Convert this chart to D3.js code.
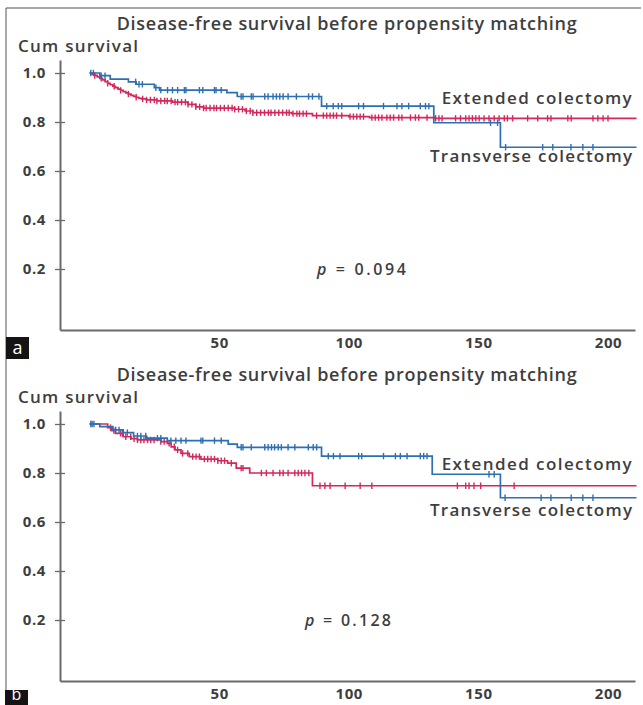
<!DOCTYPE html>
<html>
<head>
<meta charset="utf-8">
<script src="https://cdn.jsdelivr.net/npm/d3@7"></script>
<style>
  body { margin: 0; background: #fff; }
  svg { display: block; }
  text { font-family: "Open Sans", "Noto Sans", sans-serif; }
</style>
</head>
<body>
<svg id="chart" width="643" height="705"></svg>
<script>
// ---- data ----
const xTicks = [50, 100, 150, 200];
const yTicks = [0.2, 0.4, 0.6, 0.8, 1.0];
const chartTitle = "Disease-free survival before propensity matching";
const yTitle = "Cum survival";
const seriesNames = ["Extended colectomy", "Transverse colectomy"];
const pValues = ["0.094", "0.128"];
const panelLetters = ["a", "b"];

// panel a : step points [time, survival] and censor times
const blueStepsA = [[0, 1], [4, 0.989], [8, 0.975], [15, 0.964], [18, 0.954], [25, 0.94], [27, 0.93],
  [53, 0.92], [57, 0.904], [89.5, 0.865], [132.8, 0.797], [158.5, 0.697], [211, 0.697]];
const blueCensorA = [0.5, 1.5, 4.5, 6, 17.8, 19.1, 20.4, 25.6, 27.5, 30.1, 32, 34, 36.6, 37.2, 42.4, 43.7,
  48.2, 48.8, 50.8, 58.5, 59.2, 62.4, 63.1, 67.6, 68.9, 70.8, 72.1, 73.4, 74.7, 76.6, 79.8, 84.5, 86, 88.5,
  91.5, 94, 96, 97.3, 103.8, 105.7, 113.4, 118.6, 120.5, 123.1, 127.6, 129.6, 130.9, 154.7, 157.4,
  160.5, 174.8, 178.7, 185.7, 190.3, 194.2];
const redStepsA = [[0, 1], [1, 0.995], [2, 0.99], [3, 0.984], [4, 0.978], [5, 0.972], [6, 0.965], [7, 0.958],
  [8, 0.952], [9, 0.946], [10, 0.94], [11, 0.934], [12, 0.929], [13, 0.924], [14, 0.919], [15, 0.914],
  [16, 0.909], [17, 0.905], [18, 0.901], [19, 0.897], [20, 0.894], [22, 0.89], [26, 0.886], [32, 0.881],
  [38, 0.872], [41, 0.862], [44, 0.857], [56, 0.852], [60, 0.845], [63, 0.838], [78, 0.834], [86, 0.826],
  [100, 0.822], [108, 0.818], [133, 0.815], [211, 0.815]];
const redCensorA = [2, 4.5, 7, 9.5, 12, 15, 18, 20.5, 22, 23.5, 25, 26, 27.5, 29, 30, 31.5, 33, 34, 35.5,
  37, 38, 39.5, 41, 42.5, 44, 45, 46.5, 48, 49, 50.5, 52, 53.5, 55, 56, 57.5, 59, 60.5, 62, 63, 64.5, 66,
  67.5, 69, 70, 71.5, 73, 74.5, 76, 77, 78.5, 80, 81, 82.4, 83.7, 87.6, 90.2, 91.5, 92.8, 94.1, 95.3, 97.3,
  100.5, 101.8, 103.1, 104.4, 105.7, 108.9, 110.2, 111.5, 112.8, 114.7, 116, 117.3, 119.3, 120.5, 123.8,
  125.7, 127, 130.2, 133.5, 134.8, 136, 141.2, 143.1, 145.1, 146.4, 147.7, 149, 150.3, 152.2, 154.1,
  156.1, 158, 160, 161.2, 163.2, 169, 172.9, 176.7, 178, 184.5, 185.8, 194.2, 196.1, 198.1, 200];

// panel b
const blueStepsB = [[0, 1], [4, 0.989], [9, 0.976], [13, 0.965], [17, 0.951], [22, 0.942], [30, 0.932],
  [53.5, 0.918], [57, 0.905], [89.5, 0.869], [132.2, 0.795], [158.5, 0.699], [211, 0.699]];
const blueCensorB = [0.5, 1, 1.7, 10.1, 11.4, 14.6, 18.5, 19.8, 21.7, 26.2, 27.5, 31.4, 33.3, 35.3, 37.2,
  43, 43.7, 48.2, 50.8, 58.5, 59.2, 62.4, 67.6, 68.9, 70.2, 71.4, 72.8, 74, 76.6, 79.2, 84.4, 86.3, 87.6,
  92.1, 94.1, 96.6, 103.8, 105, 113.4, 118, 119.9, 122.5, 127.6, 128.9, 130.2, 154.1, 156.1, 160.3,
  174.2, 178, 185.8, 190.3, 194.2];
const redStepsB = [[0, 1], [7, 0.985], [8.5, 0.973], [10, 0.962], [13, 0.948], [16, 0.94], [18.5, 0.935],
  [27.5, 0.928], [30, 0.921], [31.5, 0.907], [33, 0.894], [35.3, 0.88], [38.5, 0.867], [43, 0.857],
  [49.5, 0.85], [53.3, 0.84], [56.6, 0.82], [61.8, 0.8], [86, 0.748], [211, 0.748]];
const redCensorB = [8.1, 9.4, 12, 12.7, 14, 15.9, 17.2, 18.5, 19.8, 21, 22.4, 23.6, 24.9, 27.5, 28.8, 30.7,
  32.7, 34, 35.9, 37.9, 39.8, 41.1, 42.4, 44.3, 45.6, 46.9, 48.2, 49.5, 50.8, 52.1, 54.7, 58.5, 59.2, 66.3,
  68.2, 70.8, 73.4, 74.7, 76.6, 79.2, 80.5, 81.8, 83.1, 84.6, 88.9, 90.8, 92.8, 98.6, 104.4, 108.9, 141.9,
  145.1, 146.4, 148.3, 150.9, 163.8];

// ---- styles ----
const blueColor = "#2c6fb2";
const redColor = "#d4285a";
const axisColor = "#6a6a6a";
const textColor = "#3e3e3e";

const svg = d3.select("#chart");

// outer frame (top and left rule)
svg.append("line").attr("x1", 6).attr("x2", 641).attr("y1", 8).attr("y2", 8)
  .attr("stroke", "#8a8a8a").attr("stroke-width", 1.4);
svg.append("line").attr("x1", 6).attr("x2", 6).attr("y1", 8).attr("y2", 705)
  .attr("stroke", "#555").attr("stroke-width", 1);

const panels = [
  {
    offset: 0, blue: blueStepsA, blueCensor: blueCensorA, red: redStepsA, redCensor: redCensorA,
    p: pValues[0], letter: panelLetters[0],
    extY: 103.5, transY: 162, pX: 317, pY: 275, pLen: 89, letterBox: [6, 337, 23, 22], letterY: 354, letterSize: 18
  },
  {
    offset: 351, blue: blueStepsB, blueCensor: blueCensorB, red: redStepsB, redCensor: redCensorB,
    p: pValues[1], letter: panelLetters[1],
    extY: 119, transY: 164.5, pX: 305, pY: 274.5, pLen: 86, letterBox: [5, 339, 23, 16], letterY: 349, letterSize: 16
  }
];

function survivalAt(steps, t) {
  let s = steps[0][1];
  for (const d of steps) { if (d[0] <= t) s = d[1]; else break; }
  return s;
}

panels.forEach(cfg => {
  const g = svg.append("g").attr("transform", `translate(0,${cfg.offset})`);

  const x = d3.scaleLinear().domain([0, 200]).range([89.5, 608]);
  const y = d3.scaleLinear().domain([0, 1]).range([318, 73]);

  // axes span past the data, like the original
  const xAxisScale = x.copy().domain([x.invert(60), x.invert(635)]).range([60, 635]);
  const yAxisScale = y.copy().domain([y.invert(330), y.invert(60)]).range([330, 60]);

  const xAxis = g.append("g").attr("transform", "translate(0,330)")
    .call(d3.axisBottom(xAxisScale).tickValues(xTicks).tickSize(0).tickSizeOuter(0).tickPadding(7)
      .tickFormat(d3.format("d")));
  xAxis.select(".domain").attr("stroke", axisColor).attr("stroke-width", 2);
  xAxis.selectAll("text").attr("fill", textColor).attr("font-size", 15).attr("font-weight", 700)
    .attr("letter-spacing", 0.6);

  const yAxis = g.append("g").attr("transform", "translate(60,0)")
    .call(d3.axisLeft(yAxisScale).tickValues(yTicks).tickSize(5).tickSizeOuter(0).tickPadding(9)
      .tickFormat(d3.format(".1f")));
  yAxis.select(".domain").attr("stroke", axisColor).attr("stroke-width", 2);
  yAxis.selectAll(".tick line").attr("x1", 5).attr("stroke", axisColor).attr("stroke-width", 1.3);
  yAxis.selectAll("text").attr("fill", textColor).attr("font-size", 15).attr("font-weight", 700)
    .attr("letter-spacing", 0.6);

  const line = d3.line().x(d => x(d[0])).y(d => y(d[1])).curve(d3.curveStepAfter);

  function drawSeries(steps, censor, color) {
    g.append("path").datum(steps).attr("d", line)
      .attr("fill", "none").attr("stroke", color).attr("stroke-width", 1.7);
    g.append("g").selectAll("line").data(censor).join("line")
      .attr("x1", d => x(d)).attr("x2", d => x(d))
      .attr("y1", d => y(survivalAt(steps, d)) - 3.2)
      .attr("y2", d => y(survivalAt(steps, d)) + 3.2)
      .attr("stroke", color).attr("stroke-width", 1.4);
  }
  drawSeries(cfg.red, cfg.redCensor, redColor);
  drawSeries(cfg.blue, cfg.blueCensor, blueColor);

  // texts
  g.append("text").attr("x", 116.7).attr("y", 30).attr("textLength", 460)
    .attr("font-size", 18).attr("font-weight", 600).attr("fill", textColor).text(chartTitle);
  g.append("text").attr("x", 18).attr("y", 51.5).attr("textLength", 120)
    .attr("font-size", 17).attr("font-weight", 600).attr("fill", textColor).text(yTitle);
  g.append("text").attr("x", 441.7).attr("y", cfg.extY).attr("textLength", 190)
    .attr("font-size", 17).attr("font-weight", 600).attr("fill", textColor).text(seriesNames[0]);
  g.append("text").attr("x", 430).attr("y", cfg.transY).attr("textLength", 202)
    .attr("font-size", 17).attr("font-weight", 600).attr("fill", textColor).text(seriesNames[1]);

  const pText = g.append("text").attr("x", cfg.pX).attr("y", cfg.pY).attr("textLength", cfg.pLen)
    .attr("font-size", 16).attr("font-weight", 600).attr("fill", textColor);
  pText.append("tspan").attr("font-style", "italic").text("p");
  pText.append("tspan").text(" = " + cfg.p);

  // panel letter badge
  const [bx, by, bw, bh] = cfg.letterBox;
  g.append("rect").attr("x", bx).attr("y", by).attr("width", bw).attr("height", bh).attr("fill", "#141414");
  g.append("text").attr("x", bx + bw / 2).attr("y", cfg.letterY).attr("text-anchor", "middle")
    .attr("font-size", cfg.letterSize).attr("fill", "#fff").text(cfg.letter);
});
</script>
</body>
</html>
